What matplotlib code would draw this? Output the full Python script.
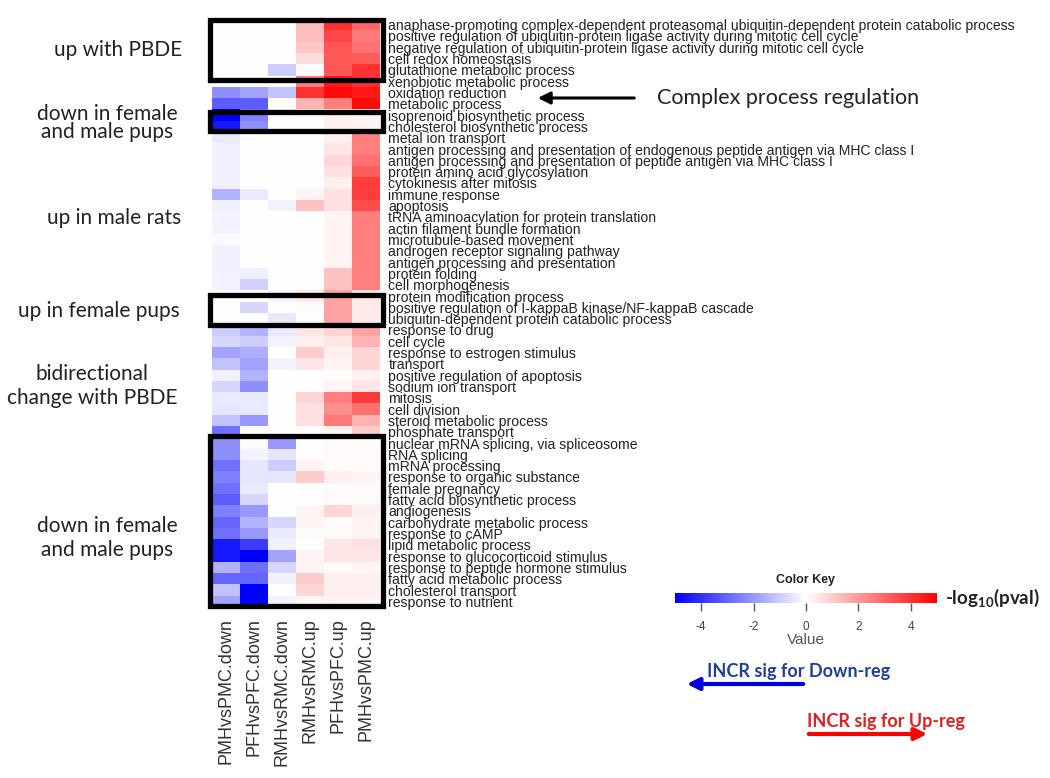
import matplotlib
matplotlib.use("Agg")
import matplotlib.pyplot as plt
import numpy as np
from matplotlib.colors import LinearSegmentedColormap
from matplotlib.patches import Rectangle, FancyArrowPatch

plt.rcParams['mathtext.fontset'] = 'custom'
plt.rcParams['mathtext.bf'] = 'Lato:bold'
plt.rcParams['mathtext.rm'] = 'Lato'
plt.rcParams['axes.unicode_minus'] = False

# GO terms (rows) and comparisons (columns)
terms = [
    "anaphase-promoting complex-dependent proteasomal ubiquitin-dependent protein catabolic process",
    "positive regulation of ubiquitin-protein ligase activity during mitotic cell cycle",
    "negative regulation of ubiquitin-protein ligase activity during mitotic cell cycle",
    "cell redox homeostasis",
    "glutathione metabolic process",
    "xenobiotic metabolic process",
    "oxidation reduction",
    "metabolic process",
    "isoprenoid biosynthetic process",
    "cholesterol biosynthetic process",
    "metal ion transport",
    "antigen processing and presentation of endogenous peptide antigen via MHC class I",
    "antigen processing and presentation of peptide antigen via MHC class I",
    "protein amino acid glycosylation",
    "cytokinesis after mitosis",
    "immune response",
    "apoptosis",
    "tRNA aminoacylation for protein translation",
    "actin filament bundle formation",
    "microtubule-based movement",
    "androgen receptor signaling pathway",
    "antigen processing and presentation",
    "protein folding",
    "cell morphogenesis",
    "protein modification process",
    "positive regulation of I-kappaB kinase/NF-kappaB cascade",
    "ubiquitin-dependent protein catabolic process",
    "response to drug",
    "cell cycle",
    "response to estrogen stimulus",
    "transport",
    "positive regulation of apoptosis",
    "sodium ion transport",
    "mitosis",
    "cell division",
    "steroid metabolic process",
    "phosphate transport",
    "nuclear mRNA splicing, via spliceosome",
    "RNA splicing",
    "mRNA processing",
    "response to organic substance",
    "female pregnancy",
    "fatty acid biosynthetic process",
    "angiogenesis",
    "carbohydrate metabolic process",
    "response to cAMP",
    "lipid metabolic process",
    "response to glucocorticoid stimulus",
    "response to peptide hormone stimulus",
    "fatty acid metabolic process",
    "cholesterol transport",
    "response to nutrient",
]

comparisons = ["PMHvsPMC.down", "PFHvsPFC.down", "RMHvsRMC.down",
               "RMHvsRMC.up", "PFHvsPFC.up", "PMHvsPMC.up"]

# signed -log10(pval) per comparison, one value per term (top to bottom)
pmh_pmc_down = [0, 0, 0, 0, 0, 0, -2.2, -3.2, -5.0, -4.5,
                -0.4, -0.3, -0.3, -0.3, -0.3, -1.5, -0.3, -0.2, -0.2, -0.1,
                -0.3, -0.3, -0.3, -0.2, 0, 0, 0, -1.0, -0.8, -1.8,
                -1.2, -0.3, -0.8, -0.4, -0.5, -1.2, -2.8, -2.2, -2.2, -2.8,
                -2.5, -2.8, -3.2, -2.5, -3.0, -2.8, -4.5, -4.5, -1.5, -3.0,
                -1.2, -1.8]
pfh_pfc_down = [0, 0, 0, 0, 0, 0, -1.8, -3.2, -2.5, -2.2,
                0, 0, 0, 0, 0, -0.4, 0, 0, 0, 0,
                0, 0, -0.3, -0.9, 0, -0.8, 0, -1.5, -1.0, -1.6,
                -1.8, -1.5, -2.2, -0.4, -0.4, -2.0, 0, -0.1, -0.2, -0.5,
                -0.5, -0.4, -0.8, -2.0, -1.5, -2.0, -3.8, -5.0, -2.8, -3.0,
                -5.0, -5.0]
rmh_rmc_down = [0, 0, 0, 0, -1.0, 0, -1.2, 0, 0, 0,
                0, 0, 0, 0, 0, 0, -0.2, 0, 0, 0,
                0, 0, 0, 0, -0.2, 0, -0.4, -0.4, -0.2, 0,
                -0.2, 0, 0, 0, 0, 0, 0, -2.0, -0.5, -1.0,
                -0.5, 0, 0, 0, -0.8, -0.4, -0.3, -1.8, -0.8, -0.3,
                0, -0.2]
rmh_rmc_up = [1.3, 1.3, 1.1, 0.7, 0.1, 2.5, 4.0, 1.5, 0, 0,
              0, 0, 0, 0, 0, 0.2, 1.2, 0, 0, 0,
              0, 0, 0, 0, 0.4, 0.1, 0, 0.5, 0.3, 1.0,
              0.5, 0, 0, 0.8, 0.6, 0.6, 0, 0, 0, 0.2,
              1.0, 0, 0, 0.2, 0.2, 0.1, 0, 0.2, 0.2, 1.0,
              0.8, 0.2]
pfh_pfc_up = [4.0, 3.6, 3.3, 3.3, 3.3, 4.5, 4.8, 2.5, 0.3, 0.3,
              0.3, 0.5, 0.8, 0.6, 0.3, 0.6, 0.6, 0.2, 0.2, 0.2,
              0.2, 0.2, 1.2, 1.2, 1.8, 1.8, 1.8, 0.8, 0.5, 0.3,
              0.2, 0, 0.2, 2.5, 2.2, 2.6, 0.2, 0.1, 0.1, 0.1,
              0.3, 0.1, 0.1, 0.8, 0.1, 0.1, 0.5, 0.5, 0.1, 0.3,
              0.3, 0.2]
pmh_pmc_up = [3.0, 2.6, 2.8, 3.2, 4.0, 4.0, 4.5, 4.8, 0.2, 0.2,
              2.5, 2.5, 2.8, 3.2, 3.8, 3.8, 3.5, 2.5, 2.5, 2.5,
              2.5, 2.5, 2.5, 2.5, 0.5, 0.4, 0.4, 1.8, 1.5, 0.8,
              0.8, 0.3, 0.5, 3.8, 2.8, 1.5, 1.0, 0.1, 0.1, 0.1,
              0.2, 0.1, 0.1, 0.3, 0.2, 0.2, 0.6, 0.5, 0.2, 0.3,
              0.3, 0.2]

# highlighted groups: (top edge, bottom edge) in row units
group_boxes = [(-0.37, 4.9), (7.73, 9.41), (23.88, 26.54), (36.36, 51.4)]

W, H = 1050, 778
fig = plt.figure(figsize=(W / 100, H / 100), dpi=100)
fig.patch.set_facecolor("white")


def px(x, y):
    return (x / W, 1 - y / H)


cmap = LinearSegmentedColormap.from_list("bwr3", ["#0000ff", "#ffffff", "#ff0000"])
data = np.array([pmh_pmc_down, pfh_pfc_down, rmh_rmc_down,
                 rmh_rmc_up, pfh_pfc_up, pmh_pmc_up]).T

ax = fig.add_axes([212 / W, 1 - 607 / H, 168 / W, 588 / H])
im = ax.imshow(data, cmap=cmap, vmin=-5, vmax=5, aspect="auto",
               interpolation="nearest")
for s in ax.spines.values():
    s.set_visible(False)
ax.yaxis.tick_right()
ax.set_yticks(range(len(terms)))
ax.set_yticklabels(terms, fontsize=10.1, family="Liberation Sans", color="#222222")
ax.set_xticks(range(len(comparisons)))
ax.set_xticklabels(comparisons, rotation=90, fontsize=13,
                   family="Liberation Sans", color="#333333")
ax.tick_params(length=0, pad=6)
ax.tick_params(axis="x", pad=8)

for top, bot in group_boxes:
    ax.add_patch(Rectangle((-0.57, top), 6.17, bot - top, fill=False,
                           edgecolor="black", lw=3.8, clip_on=False))

# group labels on the left
lab = dict(family="Lato", fontsize=15, color="#222222", ha="center", va="center")
fig.text(*px(118, 50), "up with PBDE", **lab)
fig.text(*px(107, 123), "down in female\nand male pups", linespacing=0.85, **lab)
fig.text(*px(114, 218), "up in male rats", **lab)
fig.text(*px(99, 311), "up in female pups", **lab)
fig.text(*px(92, 386), "bidirectional\nchange with PBDE", linespacing=1.2, **lab)
fig.text(*px(107, 538), "down in female\nand male pups", linespacing=1.25, **lab)

# complex process arrow
fig.add_artist(FancyArrowPatch(px(637, 98), px(535, 98), transform=fig.transFigure,
                               arrowstyle="-|>", mutation_scale=18, lw=2.2,
                               color="black"))
fig.text(*px(657, 98), "Complex process regulation", family="Lato", fontsize=15.5,
         color="#222222", ha="left", va="center")

# colour key
cax = fig.add_axes([675 / W, 1 - 603 / H, 262 / W, 10 / H])
cb = fig.colorbar(im, cax=cax, orientation="horizontal", ticks=[-4, -2, 0, 2, 4])
cb.outline.set_visible(False)
cax.tick_params(length=6, width=1, color="#555555", labelsize=8.5,
                labelcolor="#444444", pad=7)
for t in cax.get_xticklabels():
    t.set_family("Liberation Sans")
cax.set_xlabel("Value", fontsize=11, family="Liberation Sans", color="#555555",
               labelpad=0)
fig.text(*px(806, 580), "Color Key", family="Liberation Sans", fontsize=9,
         fontweight="bold", color="#222222", ha="center", va="center")
fig.text(*px(945, 598), r"-log$_{\mathbf{10}}$(pval)", family="Lato", fontsize=13.5,
         fontweight="bold", color="#222222", ha="left", va="center")

# direction arrows
fig.text(*px(707, 672), "INCR sig for Down-reg", family="Lato", fontsize=13,
         fontweight="bold", color="#1f3f9f", ha="left", va="center")
fig.add_artist(FancyArrowPatch(px(806, 684), px(684, 684), transform=fig.transFigure,
                               arrowstyle="-|>", mutation_scale=18, lw=3,
                               color="#0000dd"))
fig.text(*px(807, 722), "INCR sig for Up-reg", family="Lato", fontsize=13,
         fontweight="bold", color="#e02020", ha="left", va="center")
fig.add_artist(FancyArrowPatch(px(806, 734), px(930, 734), transform=fig.transFigure,
                               arrowstyle="-|>", mutation_scale=18, lw=3,
                               color="#ff0000"))

fig.savefig("out.png", dpi=100, facecolor="white")
